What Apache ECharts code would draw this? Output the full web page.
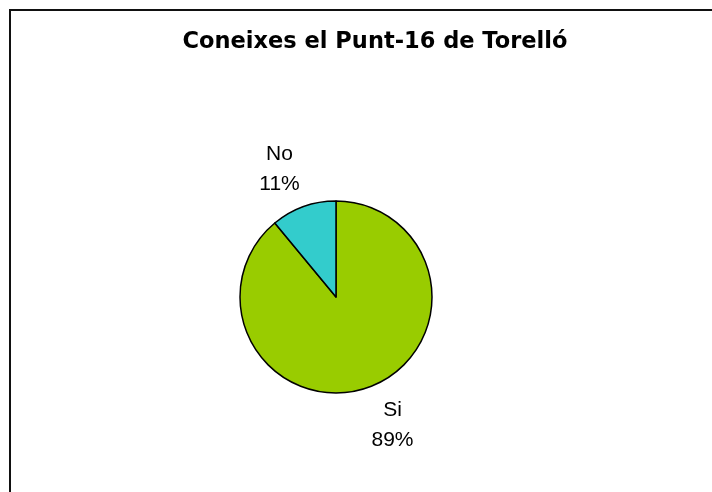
<!DOCTYPE html>
<html>
<head>
<meta charset="utf-8">
<script src="https://cdn.jsdelivr.net/npm/echarts@6/dist/echarts.min.js"></script>
<style>
  html, body { margin: 0; padding: 0; background: #fff; }
  #chart { width: 712px; height: 492px; }
</style>
</head>
<body>
<div id="chart"></div>
<script>
  // data
  var categories = ['Si', 'No']
  var values = [89, 11]
  var colors = ['#99CC00', '#33CCCC']

  var cx = 336, cy = 297

  var chart = echarts.init(document.getElementById('chart'))
  chart.setOption({
    animation: false,
    backgroundColor: '#fff',
    title: {
      text: 'Coneixes el Punt-16 de Torelló',
      left: 370,
      top: 26,
      textAlign: 'center',
      textStyle: {
        fontFamily: 'DejaVu Sans',
        fontWeight: 'bold',
        fontSize: 22.5,
        color: '#000'
      }
    },
    graphic: [{
      type: 'rect',
      shape: { x: 10, y: 10, width: 760, height: 540 },
      style: { fill: 'none', stroke: '#111', lineWidth: 2 },
      silent: true
    }],
    series: [{
      type: 'pie',
      center: [cx, cy],
      radius: 96,
      startAngle: 90,
      clockwise: true,
      data: categories.map(function (c, i) {
        return { name: c, value: values[i], itemStyle: { color: colors[i] } }
      }),
      itemStyle: { borderColor: '#000', borderWidth: 1.5 },
      label: {
        position: 'outside',
        formatter: '{b}\n{d}%',
        fontFamily: 'Liberation Sans',
        fontSize: 21,
        lineHeight: 30,
        color: '#000'
      },
      labelLine: {
        show: true,
        length: 44,
        length2: 0,
        lineStyle: { opacity: 0 }
      },
      labelLayout: function (p) {
        var pts = p.labelLinePoints
        if (!pts) return {}
        var pt = pts[pts.length - 1]
        // Excel puts the labels a little counter-clockwise of the mid angle
        var d = 4 * Math.PI / 180
        var ux = pt[0] - cx, uy = cy - pt[1]
        var rx = ux * Math.cos(d) - uy * Math.sin(d)
        var ry = ux * Math.sin(d) + uy * Math.cos(d)
        return { x: cx + rx, y: cy - ry, align: 'center', verticalAlign: 'middle' }
      }
    }]
  })
</script>
</body>
</html>
